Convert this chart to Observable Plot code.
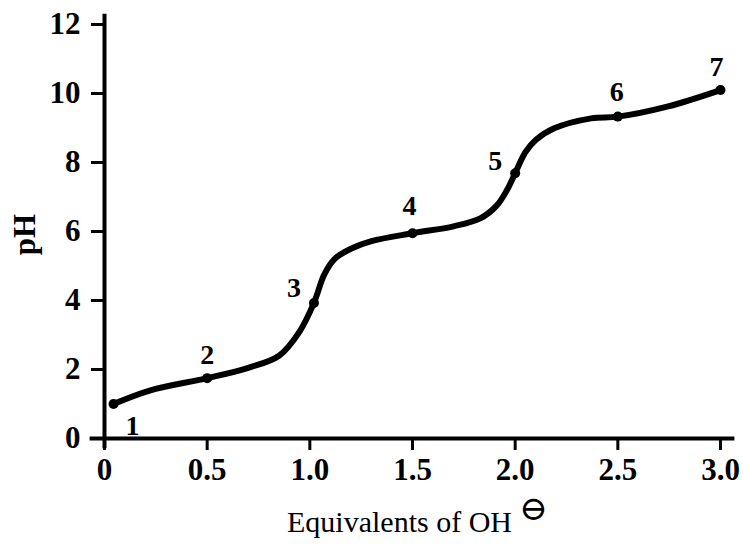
<!DOCTYPE html>
<html>
<head>
<meta charset="utf-8">
<script src="https://cdn.jsdelivr.net/npm/d3@7"></script>
<script src="https://cdn.jsdelivr.net/npm/@observablehq/plot@0.6"></script>
<style>
  html, body { margin: 0; padding: 0; background: #fff; }
  #chart svg { display: block; }
</style>
</head>
<body>
<div id="chart"></div>
<script>
// Titration curve
const curveEq = [0.044, 0.22, 0.5, 0.7, 0.85, 0.95, 1.02, 1.07, 1.12, 1.2, 1.3, 1.5, 1.7, 1.83, 1.91, 1.96, 2.0, 2.05, 2.1, 2.19, 2.37, 2.5, 2.74, 3.0];
const curvePH = [1.0, 1.39, 1.75, 2.05, 2.4, 3.1, 3.93, 4.75, 5.2, 5.5, 5.72, 5.95, 6.15, 6.38, 6.75, 7.2, 7.69, 8.3, 8.65, 8.99, 9.28, 9.33, 9.62, 10.1];

// Numbered points
const pointLabels = ["1", "2", "3", "4", "5", "6", "7"];
const pointEq = [0.044, 0.5, 1.02, 1.5, 2.0, 2.5, 3.0];
const pointPH = [1.0, 1.75, 3.93, 5.95, 7.69, 9.33, 10.1];

// Ticks
const xTicks = [0, 0.5, 1.0, 1.5, 2.0, 2.5, 3.0];
const xTickLabels = ["0", "0.5", "1.0", "1.5", "2.0", "2.5", "3.0"];
const yTicks = [0, 2, 4, 6, 8, 10, 12];
const yTickLabels = ["0", "2", "4", "6", "8", "10", "12"];

const curve = curveEq.map((x, i) => ({x, y: curvePH[i]}));
const points = pointEq.map((x, i) => ({x, y: pointPH[i], label: pointLabels[i]}));

// label offsets (layout, px)
const labelDx = [19, 0, -20, -3, -20, -1, -4];
const labelDy = [22, -23, -15, -27, -12, -25, -23];

const font = "'Liberation Serif', 'DejaVu Serif', serif";

const chart = Plot.plot({
  width: 743,
  height: 545,
  marginLeft: 104,
  marginRight: 23,
  marginTop: 24,
  marginBottom: 107,
  style: {fontFamily: font, background: "#fff", color: "#000"},
  x: {domain: [0, 3]},
  y: {domain: [0, 12]},
  marks: [
    // axis lines
    Plot.ruleY([0], {x1: -0.07, x2: 3.07, stroke: "#000", strokeWidth: 4}),
    Plot.ruleX([0], {y1: -0.3, y2: 12.3, stroke: "#000", strokeWidth: 4}),
    Plot.axisX({
      ticks: xTicks,
      tickFormat: (d, i) => xTickLabels[i],
      tickSize: 12,
      tickPadding: 7,
      strokeWidth: 3,
      fontSize: 31,
      fontWeight: "bold",
      label: null
    }),
    Plot.axisY({
      ticks: yTicks,
      tickFormat: (d, i) => yTickLabels[i],
      tickSize: 13,
      tickPadding: 11,
      strokeWidth: 3,
      fontSize: 31,
      fontWeight: "bold",
      label: null
    }),
    Plot.line(curve, {x: "x", y: "y", curve: "catmull-rom", stroke: "#000", strokeWidth: 6, strokeLinecap: "round", strokeLinejoin: "round"}),
    Plot.dot(points, {x: "x", y: "y", r: 5, fill: "#000"}),
    ...points.map((p, i) => Plot.text([p], {
      x: "x", y: "y", text: "label",
      dx: labelDx[i], dy: labelDy[i],
      fontSize: 28, fontWeight: "bold", fill: "#000"
    })),
    Plot.text(["pH"], {frameAnchor: "left", textAnchor: "middle", lineAnchor: "middle", dx: -79, dy: 3, rotate: -90, fontSize: 31, fontWeight: "bold", fill: "#000"}),
    Plot.text(["Equivalents of OH"], {frameAnchor: "bottom", dx: -13, dy: 93, fontSize: 30, fill: "#000"}),
    Plot.text(["⊖"], {frameAnchor: "bottom", lineAnchor: "middle", dx: 121, dy: 71, fontSize: 34, fill: "#000"})
  ]
});

document.getElementById("chart").appendChild(chart);
</script>
</body>
</html>
